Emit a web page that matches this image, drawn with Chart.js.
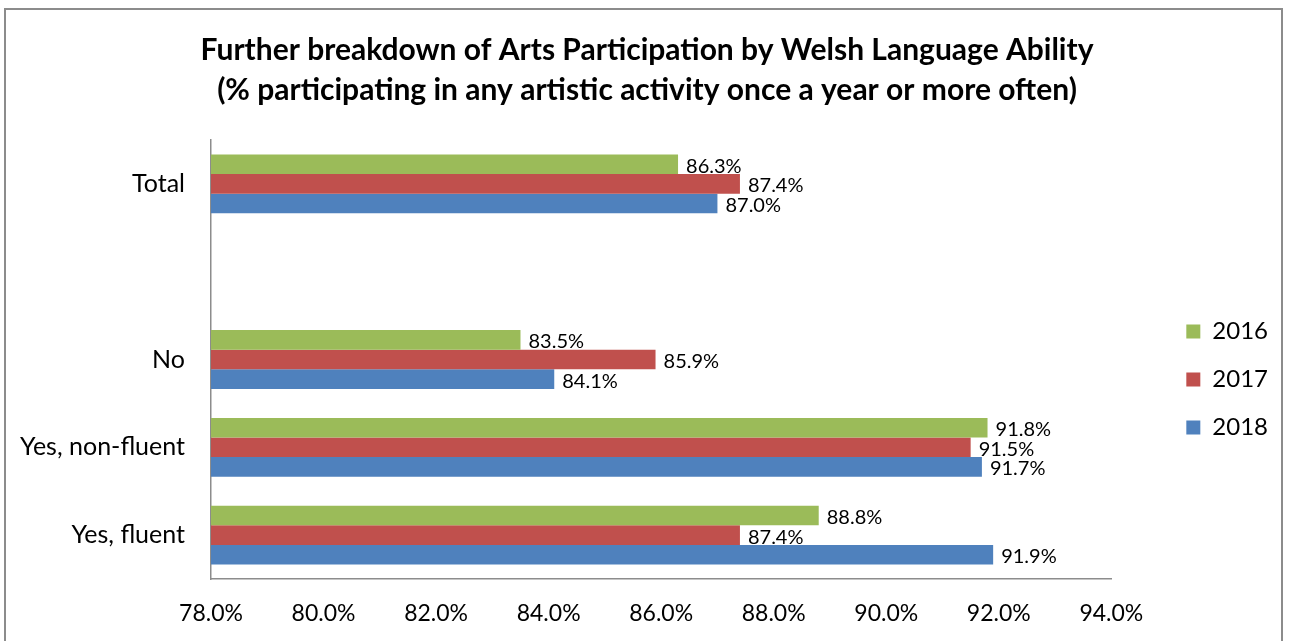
<!DOCTYPE html>
<html>
<head>
<meta charset="utf-8">
<script src="https://cdn.jsdelivr.net/npm/chart.js@4"></script>
<style>
  body { margin: 0; background: #fff; }
  #frame { position: absolute; left: 4px; top: 8px; width: 1275px; height: 700px; border: 2px solid #8c8c8c; }
  #wrap { position: absolute; left: 0; top: 0; width: 1290px; height: 641px; }
</style>
</head>
<body>
<div id="frame"></div>
<div id="wrap"><canvas id="artsChart"></canvas></div>
<script>
const categories = ["Total", "", "No", "Yes, non-fluent", "Yes, fluent"];
const years = ["2016", "2017", "2018"];
const values2016 = [86.3, null, 83.5, 91.8, 88.8];
const values2017 = [87.4, null, 85.9, 91.5, 87.4];
const values2018 = [87.0, null, 84.1, 91.7, 91.9];

const FONT = "Lato, 'Liberation Sans', sans-serif";

// Draw value labels at the end of each bar
const barLabels = {
  id: "barLabels",
  afterDatasetsDraw(chart) {
    const ctx = chart.ctx;
    ctx.save();
    ctx.font = "20px " + FONT;
    ctx.fillStyle = "#000";
    ctx.textBaseline = "middle";
    ctx.textAlign = "left";
    chart.data.datasets.forEach((ds, i) => {
      chart.getDatasetMeta(i).data.forEach((bar, j) => {
        const v = ds.data[j];
        if (v == null) return;
        ctx.fillText(v.toFixed(1) + "%", bar.x + 8, bar.y + 2);
      });
    });
    ctx.restore();
  }
};

new Chart(document.getElementById("artsChart").getContext("2d"), {
  type: "bar",
  data: {
    labels: categories,
    datasets: [
      { label: years[0], data: values2016, backgroundColor: "#9BBB59" },
      { label: years[1], data: values2017, backgroundColor: "#C0504D" },
      { label: years[2], data: values2018, backgroundColor: "#4F81BD" }
    ]
  },
  options: {
    indexAxis: "y",
    responsive: true,
    maintainAspectRatio: false,
    animation: false,
    categoryPercentage: 0.67,
    barPercentage: 1.0,
    layout: { padding: { left: 16, right: 12, top: 0, bottom: 0 } },
    plugins: {
      title: {
        display: true,
        text: [
          "Further breakdown of Arts Participation by Welsh Language Ability",
          "(% participating in any artistic activity once a year or more often)"
        ],
        color: "#000",
        font: { family: FONT, size: 30, weight: "bold", lineHeight: 1.333 },
        padding: { top: 30, bottom: 30 }
      },
      legend: {
        position: "right",
        title: { display: true, text: " ", font: { size: 10 }, padding: { top: 53, bottom: 53 } },
        labels: {
          color: "#000",
          font: { family: FONT, size: 24 },
          boxWidth: 14,
          boxHeight: 14,
          padding: 24
        }
      },
      tooltip: { enabled: false }
    },
    scales: {
      x: {
        min: 78,
        max: 94,
        grid: { display: false },
        border: { color: "#8c8c8c", width: 1.5 },
        ticks: {
          stepSize: 2,
          color: "#000",
          padding: 13,
          font: { family: FONT, size: 23 },
          callback: (v) => Number(v).toFixed(1) + "%"
        },
        afterFit: (scale) => { scale.height = 62; }
      },
      y: {
        grid: { display: false },
        border: { color: "#8c8c8c", width: 1.5 },
        ticks: {
          color: "#000",
          padding: 18,
          font: { family: FONT, size: 25 }
        },
        afterFit: (scale) => { scale.width = 195; }
      },
      // empty spacer between plot and legend
      gap: {
        type: "category",
        axis: "y",
        position: "right",
        grid: { display: false },
        border: { display: false },
        ticks: { display: false },
        afterFit: (scale) => { scale.width = 51; }
      }
    }
  },
  plugins: [barLabels]
});
</script>
</body>
</html>
